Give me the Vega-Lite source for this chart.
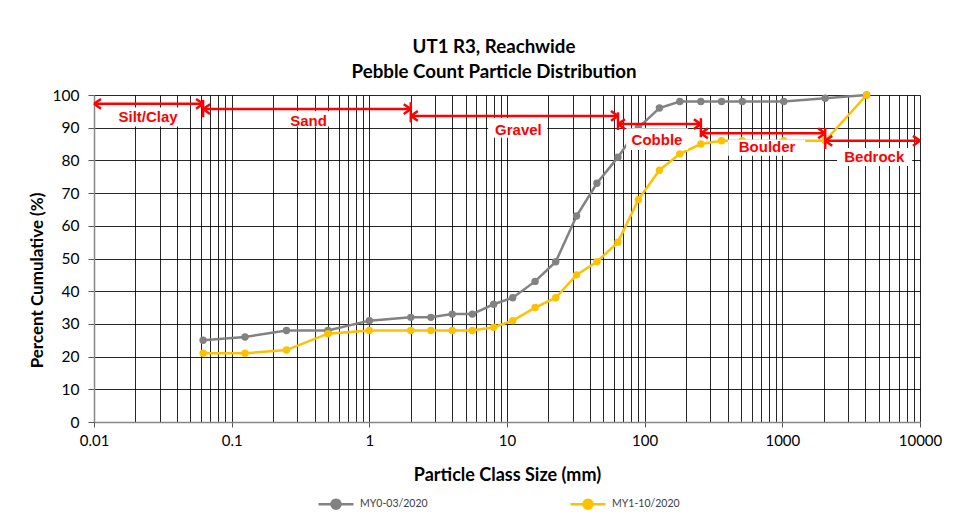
{
  "$schema": "https://vega.github.io/schema/vega-lite/v6.json",
  "width": 826,
  "height": 327,
  "autosize": "none",
  "padding": {"left": 94, "top": 95, "right": 42, "bottom": 108},
  "background": "white",
  "title": {
    "text": ["UT1 R3, Reachwide", "Pebble Count Particle Distribution"],
    "font": "Lato",
    "fontSize": 18.7,
    "fontWeight": "bold",
    "color": "#000000",
    "lineHeight": 25,
    "anchor": "middle",
    "frame": "group",
    "dx": -13,
    "offset": 6
  },
  "config": {
    "view": {"stroke": null},
    "axis": {
      "labelFont": "Lato",
      "labelFontSize": 15,
      "labelColor": "#000000",
      "titleFont": "Lato",
      "titleFontWeight": "bold",
      "titleColor": "#000000"
    }
  },
  "datasets": {
    "series": [
      {"size": 0.062, "pct": 25, "series": "MY0-03/2020"},
      {"size": 0.125, "pct": 26, "series": "MY0-03/2020"},
      {"size": 0.25, "pct": 28, "series": "MY0-03/2020"},
      {"size": 0.5, "pct": 28, "series": "MY0-03/2020"},
      {"size": 1, "pct": 31, "series": "MY0-03/2020"},
      {"size": 2, "pct": 32, "series": "MY0-03/2020"},
      {"size": 2.8, "pct": 32, "series": "MY0-03/2020"},
      {"size": 4, "pct": 33, "series": "MY0-03/2020"},
      {"size": 5.6, "pct": 33, "series": "MY0-03/2020"},
      {"size": 8, "pct": 36, "series": "MY0-03/2020"},
      {"size": 11, "pct": 38, "series": "MY0-03/2020"},
      {"size": 16, "pct": 43, "series": "MY0-03/2020"},
      {"size": 22.6, "pct": 49, "series": "MY0-03/2020"},
      {"size": 32, "pct": 63, "series": "MY0-03/2020"},
      {"size": 45, "pct": 73, "series": "MY0-03/2020"},
      {"size": 64, "pct": 81, "series": "MY0-03/2020"},
      {"size": 90, "pct": 90, "series": "MY0-03/2020"},
      {"size": 128, "pct": 96, "series": "MY0-03/2020"},
      {"size": 180, "pct": 98, "series": "MY0-03/2020"},
      {"size": 256, "pct": 98, "series": "MY0-03/2020"},
      {"size": 362, "pct": 98, "series": "MY0-03/2020"},
      {"size": 512, "pct": 98, "series": "MY0-03/2020"},
      {"size": 1024, "pct": 98, "series": "MY0-03/2020"},
      {"size": 2048, "pct": 99, "series": "MY0-03/2020"},
      {"size": 4096, "pct": 100, "series": "MY0-03/2020"},
      {"size": 0.062, "pct": 21, "series": "MY1-10/2020"},
      {"size": 0.125, "pct": 21, "series": "MY1-10/2020"},
      {"size": 0.25, "pct": 22, "series": "MY1-10/2020"},
      {"size": 0.5, "pct": 27, "series": "MY1-10/2020"},
      {"size": 1, "pct": 28, "series": "MY1-10/2020"},
      {"size": 2, "pct": 28, "series": "MY1-10/2020"},
      {"size": 2.8, "pct": 28, "series": "MY1-10/2020"},
      {"size": 4, "pct": 28, "series": "MY1-10/2020"},
      {"size": 5.6, "pct": 28, "series": "MY1-10/2020"},
      {"size": 8, "pct": 29, "series": "MY1-10/2020"},
      {"size": 11, "pct": 31, "series": "MY1-10/2020"},
      {"size": 16, "pct": 35, "series": "MY1-10/2020"},
      {"size": 22.6, "pct": 38, "series": "MY1-10/2020"},
      {"size": 32, "pct": 45, "series": "MY1-10/2020"},
      {"size": 45, "pct": 49, "series": "MY1-10/2020"},
      {"size": 64, "pct": 55, "series": "MY1-10/2020"},
      {"size": 90, "pct": 68, "series": "MY1-10/2020"},
      {"size": 128, "pct": 77, "series": "MY1-10/2020"},
      {"size": 180, "pct": 82, "series": "MY1-10/2020"},
      {"size": 256, "pct": 85, "series": "MY1-10/2020"},
      {"size": 362, "pct": 86, "series": "MY1-10/2020"},
      {"size": 512, "pct": 86, "series": "MY1-10/2020"},
      {"size": 1024, "pct": 86, "series": "MY1-10/2020"},
      {"size": 2048, "pct": 86, "series": "MY1-10/2020"},
      {"size": 4096, "pct": 100, "series": "MY1-10/2020"}
    ],
    "boxes": [
      {"label": "Silt/Clay", "x1": 0.0127, "x2": 0.0468, "y1": 90.4, "y2": 96.2},
      {"label": "Sand", "x1": 0.245, "x2": 0.538, "y1": 90.4, "y2": 95.0},
      {"label": "Gravel", "x1": 7.3, "x2": 19.6, "y1": 86.9, "y2": 93.0},
      {"label": "Cobble", "x1": 73.4, "x2": 207, "y1": 83.2, "y2": 89.8},
      {"label": "Boulder", "x1": 404, "x2": 1464, "y1": 81.4, "y2": 86.3},
      {"label": "Bedrock", "x1": 2500, "x2": 8766, "y1": 78.3, "y2": 83.8}
    ],
    "labels": [
      {"label": "Silt/Clay", "x": 0.0247, "y": 91.6},
      {"label": "Sand", "x": 0.362, "y": 90.6},
      {"label": "Gravel", "x": 12.1, "y": 87.9},
      {"label": "Cobble", "x": 123, "y": 84.7},
      {"label": "Boulder", "x": 775, "y": 82.7},
      {"label": "Bedrock", "x": 4656, "y": 79.6}
    ],
    "arrows": [
      {"label": "Silt/Clay", "x1": 0.01, "x2": 0.062, "y": 97.3},
      {"label": "Sand", "x1": 0.062, "x2": 2, "y": 95.7},
      {"label": "Gravel", "x1": 2, "x2": 64, "y": 93.6},
      {"label": "Cobble", "x1": 64, "x2": 256, "y": 91.1},
      {"label": "Boulder", "x1": 256, "x2": 2048, "y": 88.3},
      {"label": "Bedrock", "x1": 2048, "x2": 10000, "y": 86.0}
    ],
    "heads": [
      {"x": 0.01, "y": 97.3, "dir": "L"},
      {"x": 0.062, "y": 97.3, "dir": "R"},
      {"x": 0.062, "y": 95.7, "dir": "L"},
      {"x": 2, "y": 95.7, "dir": "R"},
      {"x": 2, "y": 93.6, "dir": "L"},
      {"x": 64, "y": 93.6, "dir": "R"},
      {"x": 64, "y": 91.1, "dir": "L"},
      {"x": 256, "y": 91.1, "dir": "R"},
      {"x": 256, "y": 88.3, "dir": "L"},
      {"x": 2048, "y": 88.3, "dir": "R"},
      {"x": 2048, "y": 86.0, "dir": "L"},
      {"x": 10000, "y": 86.0, "dir": "R"}
    ],
    "ticks": [
      {"x": 0.062, "y1": 93.2, "y2": 98.5},
      {"x": 2, "y1": 91.6, "y2": 97.8},
      {"x": 64, "y1": 89.3, "y2": 94.7},
      {"x": 256, "y1": 87.1, "y2": 92.9},
      {"x": 2048, "y1": 83.5, "y2": 89.9}
    ]
  },
  "layer": [
    {
      "data": {"name": "series"},
      "mark": {"type": "line", "strokeWidth": 2.5, "point": {"filled": true, "size": 55}},
      "encoding": {
        "x": {
          "field": "size",
          "type": "quantitative",
          "scale": {"type": "log", "domain": [0.01, 10000], "nice": false},
          "axis": {
            "title": "Particle Class Size (mm)",
            "titleFontSize": 18,
            "values": [0.01,0.02,0.03,0.04,0.05,0.06,0.07,0.08,0.09,0.1,0.2,0.3,0.4,0.5,0.6,0.7,0.8,0.9,1,2,3,4,5,6,7,8,9,10,20,30,40,50,60,70,80,90,100,200,300,400,500,600,700,800,900,1000,2000,3000,4000,5000,6000,7000,8000,9000,10000],
            "labelExpr": "abs(log(datum.value)/LN10 - round(log(datum.value)/LN10)) < 0.000001 ? toString(datum.value) : ''",
            "labelOverlap": false,
            "labelBound": false,
            "labelFlush": false,
            "labelPadding": 6,
            "tickSize": 5,
            "tickColor": "#555555",
            "tickOpacity": {"condition": {"test": "abs(log(datum.value)/LN10 - round(log(datum.value)/LN10)) < 0.000001", "value": 1}, "value": 0},
            "grid": true,
            "gridColor": "#000000",
            "gridWidth": 1,
            "gridOpacity": 0.85,
            "domainColor": "#868686",
            "domainWidth": 1.5,
            "titlePadding": 18
          }
        },
        "y": {
          "field": "pct",
          "type": "quantitative",
          "scale": {"domain": [0, 100], "nice": false},
          "axis": {
            "title": "Percent Cumulative (%)",
            "titleFontSize": 17,
            "titleY": 185,
            "values": [0,10,20,30,40,50,60,70,80,90,100],
            "labelOverlap": false,
            "labelFontSize": 15.5,
            "grid": true,
            "gridColor": "#000000",
            "gridWidth": 1,
            "gridOpacity": 0.85,
            "domainColor": "#868686",
            "domainWidth": 1.5,
            "tickSize": 6,
            "tickColor": "#555555",
            "labelPadding": 9,
            "titlePadding": 6
          }
        },
        "color": {
          "field": "series",
          "type": "nominal",
          "scale": {"domain": ["MY0-03/2020", "MY1-10/2020"], "range": ["#828282", "#FFC000"]},
          "legend": {
            "title": null,
            "orient": "none",
            "direction": "horizontal",
            "legendX": 223,
            "legendY": 390,
            "padding": 0,
            "symbolType": "M-1,0L1,0M0.26,0A0.26,0.26,0,1,1,-0.26,0A0.26,0.26,0,1,1,0.26,0Z",
            "symbolSize": 1225,
            "symbolStrokeWidth": 2.5,
            "labelFont": "Lato",
            "labelFontSize": 10.5,
            "labelColor": "#404040",
            "labelOffset": 5,
            "columnPadding": 137,
            "encode": {
              "symbols": {
                "update": {
                  "fill": {"scale": "color", "field": "value"},
                  "stroke": {"scale": "color", "field": "value"},
                  "fillOpacity": {"value": 1}
                }
              }
            }
          }
        }
      }
    },
    {
      "data": {"name": "boxes"},
      "mark": {"type": "rect", "fill": "white"},
      "encoding": {
        "x": {"field": "x1", "type": "quantitative"},
        "x2": {"field": "x2"},
        "y": {"field": "y1", "type": "quantitative", "axis": {"values": [0,10,20,30,40,50,60,70,80,90,100], "labelOverlap": false}},
        "y2": {"field": "y2"}
      }
    },
    {
      "data": {"name": "arrows"},
      "mark": {"type": "rule", "color": "#FF0000", "strokeWidth": 2.5},
      "encoding": {
        "x": {"field": "x1", "type": "quantitative"},
        "x2": {"field": "x2"},
        "y": {"field": "y", "type": "quantitative", "axis": {"values": [0,10,20,30,40,50,60,70,80,90,100], "labelOverlap": false}}
      }
    },
    {
      "data": {"name": "ticks"},
      "mark": {"type": "rule", "color": "#FF0000", "strokeWidth": 2.5},
      "encoding": {
        "x": {"field": "x", "type": "quantitative"},
        "y": {"field": "y1", "type": "quantitative", "axis": {"values": [0,10,20,30,40,50,60,70,80,90,100], "labelOverlap": false}},
        "y2": {"field": "y2"}
      }
    },
    {
      "data": {"name": "heads"},
      "mark": {"type": "point", "filled": false, "color": "#FF0000", "strokeWidth": 2.5, "size": 196, "opacity": 1},
      "encoding": {
        "x": {"field": "x", "type": "quantitative"},
        "y": {"field": "y", "type": "quantitative", "axis": {"values": [0,10,20,30,40,50,60,70,80,90,100], "labelOverlap": false}},
        "shape": {
          "field": "dir",
          "type": "nominal",
          "scale": {"domain": ["L", "R"], "range": ["M0,0L1,-0.7M0,0L1,0.7", "M0,0L-1,-0.7M0,0L-1,0.7"]},
          "legend": null
        }
      }
    },
    {
      "data": {"name": "labels"},
      "mark": {"type": "text", "font": "Liberation Sans", "fontSize": 15, "fontWeight": "bold", "color": "#FF0000", "align": "center", "baseline": "alphabetic"},
      "encoding": {
        "x": {"field": "x", "type": "quantitative"},
        "y": {"field": "y", "type": "quantitative", "axis": {"values": [0,10,20,30,40,50,60,70,80,90,100], "labelOverlap": false}},
        "text": {"field": "label"}
      }
    }
  ]
}
